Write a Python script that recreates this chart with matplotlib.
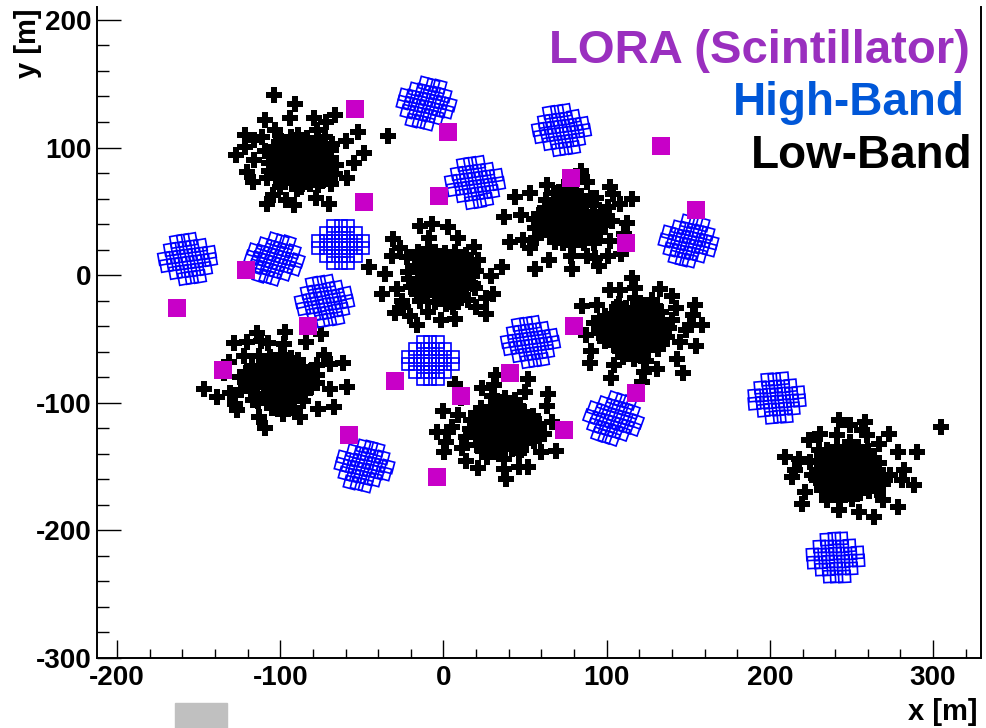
import numpy as np
import matplotlib
matplotlib.use("Agg")
import matplotlib.pyplot as plt
from matplotlib.ticker import MultipleLocator
from matplotlib.patches import Rectangle

plt.rcParams['font.family'] = ['Liberation Sans', 'DejaVu Sans']
plt.rcParams['font.weight'] = 'bold'
plt.rcParams['axes.unicode_minus'] = False

# LORA scintillator detectors (m)
lora_x = [-54, 3, 133, -49, -3, 78, 155, 112, -121, -163,
          -83, 80, -135, -30, 11, 41, -58, 74, 118, -4]
lora_y = [130, 112, 101, 57, 62, 76, 51, 25, 4, -26,
          -40, -40, -74, -83, -95, -77, -125, -121, -92, -158]

# high-band fields: centres (m) and orientation (deg)
hba_x = [-11, 72, 19, -157, -104, -63, -73, 150, 53, -8, 104, 204, -49, 240]
hba_y = [135, 114, 73, 13, 13, 24, -20, 27, -52, -67, -112, -96, -149, -221]
hba_rot = [-15, 10, 10, 10, -18, 0, 12, -15, 10, 0, -20, 5, -15, 3]

# tile layout inside one high-band field (m)
hba_tile_dx = [-4.6, 0, 4.6,
               -9.2, -4.6, 0, 4.6, 9.2,
               -13.8, -9.2, -4.6, 0, 4.6, 9.2, 13.8,
               -13.8, -9.2, -4.6, 0, 4.6, 9.2, 13.8,
               -9.2, -4.6, 0, 4.6, 9.2,
               -4.6, 0, 4.6]
hba_tile_dy = [14.75] * 3 + [8.85] * 5 + [2.95] * 7 + [-2.95] * 7 + [-8.85] * 5 + [-14.75] * 3

# low-band stations: centres (m) and orientation (deg)
lba_x = [-88, -2, 79, 119, -101, 35, 248]
lba_y = [90, -2, 43, -42, -82, -120, -153]
lba_rot = [75, 150, 220, 290, 35, 110, 0]

# dipole layout inside one low-band station (m)
lba_dx = [-5.9, 1.2, 10.4, 8.4, 24.7, -17.2, -24.3, -6.9, 1.2, 11.4,
          18.6, 30.8, 42.1, -18.2, -38.6, -30.4, -23.3, -17.2, -32.5, -34.5,
          -22.3, 33.9, 25.7, 32.9, 40.0, 21.6, -26.3, -16.1, -28.4, -13.1,
          -4.9, -5.9, 6.3, 15.5, 21.6, 30.8, 2.3, -1.8, 17.6,
          0, 3, -3, 5, -5, 1, -2, 7, -7, 8,
          -8, 2, -1, 10, -10, 11, -11, 12, -12, 4,
          -5, 5, -4, 14, -14, 14, -14, 9, -9, 9,
          -9, 16, -16, 16, -16, 0, 1, 18, -18, 6,
          -7, 7, -6, 12, -13, 13, -12, 19, -19, 20,
          -20, 3, -2, 6, -6, 7, -7]
lba_dy = [39.2, 35.3, 37.9, 31.3, 28.7, 28.7, 23.5, 27.4, 22.2, 27.4,
          20.9, 14.4, 14.4, 15.7, 10.4, 9.1, 6.5, 6.5, 0, -5.2,
          -3.9, 0, -3.9, -7.8, -11.8, -10.4, -17.0, -15.7, -26.1, -23.5,
          -23.5, -31.3, -32.7, -36.6, -23.5, -28.8, -22.2, -17.0, -15.7,
          0, 2, 3, -3, -2, 6, -6, 4, 5, -6,
          -7, -10, 10, 1, 0, 8, 9, -9, -10, 12,
          13, -13, -13, 3, 3, -4, -4, 13, 14, -14,
          -15, 10, 11, -11, -11, 16, -16, 0, -1, 18,
          18, -18, -19, 15, 16, -16, -17, 6, 7, -6,
          -6, -4, 4, 8, -9, -1, 1]

# isolated low-band dipoles (m)
lba_extra_x = [305, -147, -104, -34, -7]
lba_extra_y = [-119, -89, 141, 109, 40]


def place(cx, cy, dx, dy, deg):
    a = np.radians(deg)
    dx = np.asarray(dx, float)
    dy = np.asarray(dy, float)
    return cx + dx * np.cos(a) - dy * np.sin(a), cy + dx * np.sin(a) + dy * np.cos(a)


fig = plt.figure(figsize=(9.86, 7.28), dpi=100)
ax = fig.add_axes([0.0984, 0.0962, 0.8966, 0.894])

for cx, cy, r in zip(lba_x, lba_y, lba_rot):
    px, py = place(cx, cy, lba_dx, lba_dy, r)
    ax.plot(px, py, 'P', color='black', ms=11.5, mew=0, linestyle='none')
ax.plot(lba_extra_x, lba_extra_y, 'P', color='black', ms=11.5, mew=0, linestyle='none')

for cx, cy, r in zip(hba_x, hba_y, hba_rot):
    px, py = place(cx, cy, hba_tile_dx, hba_tile_dy, r)
    ax.plot(px, py, marker=(4, 0, 45 + r), ms=12, mfc='none', mec='#0000ff',
            mew=1.2, linestyle='none')

ax.plot(lora_x, lora_y, 's', color='#c800c8', ms=13.5, mew=0, linestyle='none')

ax.set_xlim(-212.3, 329.4)
ax.set_ylim(-300, 210)
ax.xaxis.set_major_locator(MultipleLocator(100))
ax.xaxis.set_minor_locator(MultipleLocator(20))
ax.yaxis.set_major_locator(MultipleLocator(100))
ax.yaxis.set_minor_locator(MultipleLocator(20))
ax.tick_params(axis='x', which='major', direction='in', length=13, width=1, labelsize=20, pad=5)
ax.tick_params(axis='x', which='minor', direction='in', length=6.5, width=1)
ax.tick_params(axis='y', which='major', direction='in', length=17, width=1, labelsize=20, pad=4)
ax.tick_params(axis='y', which='minor', direction='in', length=8.6, width=1)
ax.spines['top'].set_visible(False)
for s in ['left', 'bottom', 'right']:
    ax.spines[s].set_linewidth(1.4)
for lab in ax.get_xticklabels() + ax.get_yticklabels():
    lab.set_fontweight('bold')

fig.text(28 / 986, 1 - 8 / 728, 'y [m]', rotation=90, ha='center', va='top',
         fontsize=21, fontweight='bold')
fig.text(978 / 986, 8 / 728, 'x [m]', ha='right', va='baseline',
         fontsize=21, fontweight='bold')

fig.text(970 / 986, 1 - 63 / 728, 'LORA (Scintillator)', ha='right', va='baseline',
         fontsize=34, fontweight='bold', color='#9a2fbf')
fig.text(965 / 986, 1 - 115 / 728, 'High-Band', ha='right', va='baseline',
         fontsize=33, fontweight='bold', color='#0057d8')
fig.text(972 / 986, 1 - 168 / 728, 'Low-Band', ha='right', va='baseline',
         fontsize=33, fontweight='bold', color='black')

fig.patches.append(Rectangle((175 / 986, 0), 52 / 986, 25 / 728,
                             transform=fig.transFigure, color='#c0c0c0', zorder=0))

fig.savefig('out.png', dpi=100)
